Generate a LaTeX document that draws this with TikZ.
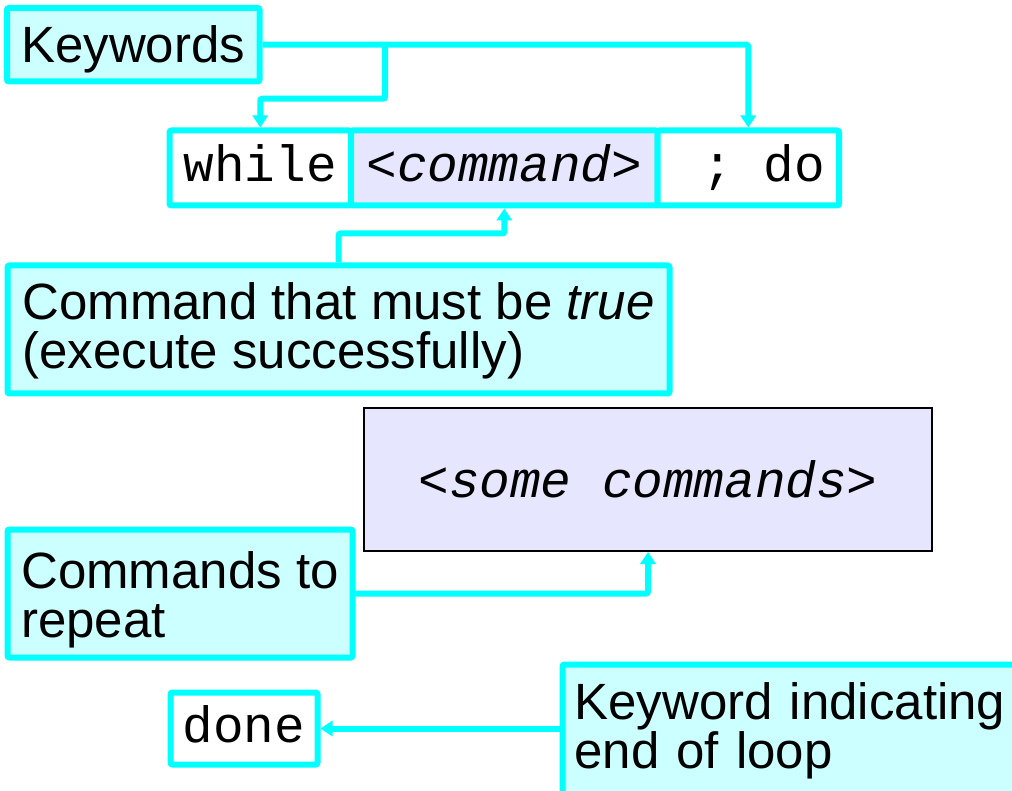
\documentclass[tikz,border=0pt]{standalone}
\usepackage{fontspec}
\setmainfont{Liberation Sans}
\setmonofont{Liberation Mono}
\usetikzlibrary{arrows.meta}
\definecolor{cyanline}{HTML}{00FFFF}
\definecolor{cyanfill}{HTML}{CCFFFF}
\definecolor{lav}{HTML}{E6E6FF}
\begin{document}
\begin{tikzpicture}[x=1pt,y=-1pt,
  every node/.style={font=\fontsize{51}{49}\selectfont, inner sep=0pt},
  note/.style={draw=cyanline, fill=cyanfill, line width=6pt, rounded corners=2pt, align=left, inner xsep=12pt},
  codebox/.style={draw=cyanline, fill=white, line width=6pt, rounded corners=2pt, font=\fontsize{51}{49}\selectfont\ttfamily, text height=38pt, text depth=10.6pt},
  conn/.style={draw=cyanline, line width=6pt, rounded corners=2pt, -{Triangle[width=15pt,length=12pt]}},
]
\useasboundingbox (0,0) rectangle (1012,791);

\node[note, align=center, minimum width=252.5pt, minimum height=73.5pt, text height=38pt, text depth=2pt] (kw) at (133.25,44.75) {Keywords};

\node[codebox, minimum width=181.5pt, minimum height=75pt] (wh) at (260.25,168) {while};
\node[codebox, fill=lav, minimum width=306.5pt, minimum height=75pt] (cm) at (504.25,168) {\textit{<command>}};
\node[codebox, minimum width=181.5pt, minimum height=75pt] (dn) at (748.25,168) {\phantom{x}; do};

\node[note, minimum width=662pt, minimum height=128pt, text height=88pt, text depth=10.4pt] (cond) at (338.5,329.5) {Command that must be \textit{true}\\(execute successfully)};

\node[draw=black, fill=lav, line width=2pt, minimum width=568pt, minimum height=143pt, font=\fontsize{51}{49}\selectfont\ttfamily\itshape] (sc) at (648,479.5) {<some commands>};

\node[note, minimum width=345pt, minimum height=128pt, text height=98pt, text depth=10pt] (rep) at (180,593.5) {Commands to\\repeat};

\node[codebox, minimum width=147pt, minimum height=72pt] (done) at (244,728.5) {done};

\node[note, text width=456pt, minimum height=140pt, text height=38pt, text depth=68pt] (endk) at (802.5,734.5) {Keyword indicating\\end of loop};

\coordinate (br) at (385,44.75);
\draw[conn] (kw.east) -| (dn.north);
\draw[conn] (br) -- ++(0,54) -| (wh.north);
\draw[conn] (cond.north) -- ++(0,-29) -| (cm.south);
\draw[conn] (rep.east) -| (sc.south);
\draw[conn] (endk.west |- done.east) -- (done.east);
\end{tikzpicture}
\end{document}
